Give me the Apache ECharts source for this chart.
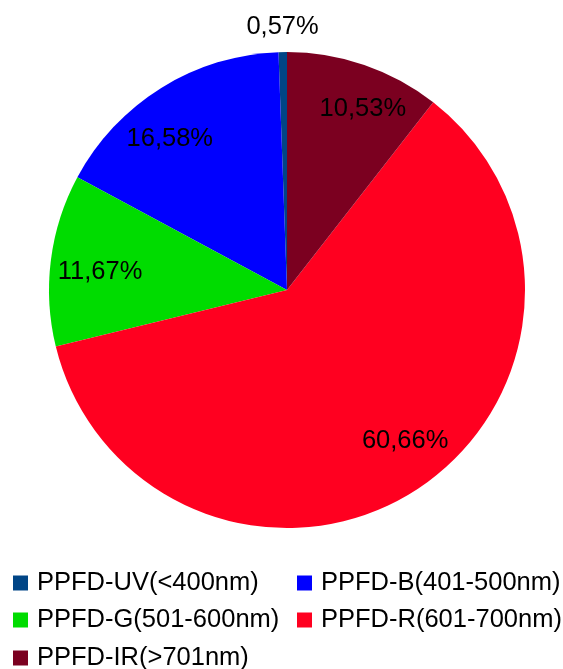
<!DOCTYPE html>
<html><head><meta charset="utf-8">
<script src="https://cdn.jsdelivr.net/npm/echarts@6/dist/echarts.min.js"></script>
<style>html,body{margin:0;padding:0;background:#fff}#c{width:563px;height:669px}</style>
</head><body><div id="c"></div>
<script>
const categories = ['PPFD-UV(<400nm)','PPFD-B(401-500nm)','PPFD-G(501-600nm)','PPFD-R(601-700nm)','PPFD-IR(>701nm)'];
const values = [0.57, 16.58, 11.67, 60.66, 10.53];
const labels = ['0,57%','16,58%','11,67%','60,66%','10,53%'];
const colors = ['#004586','#0000ff','#00dc00','#ff0020','#7b0020'];
const labelOffsets = [[-1,-70],[-15,13],[5,6],[13,-11],[13,2]];

const chart = echarts.init(document.getElementById('c'), null, {renderer:'canvas'});
const FONT = '"Liberation Sans", Arial, sans-serif';
const data = categories.map((n,i)=>({name:n, value:values[i], itemStyle:{color:colors[i]}}));
const labelData = categories.map((n,i)=>({
  name:n, value:values[i],
  label: {position:'inside', offset:labelOffsets[i]}
}));
const legendPos = [[13,570],[297,570],[13,607],[297,607],[13,645]];
const legends = categories.map((n,i)=>({
  data:[{name:n, icon:'rect'}], left:legendPos[i][0], top:legendPos[i][1],
  itemWidth:15, itemHeight:15, padding:0, selectedMode:false,
  textStyle:{fontFamily:FONT, fontSize:25.5, color:'#000', padding:[0,0,0,4]}
}));
chart.setOption({
  animation:false,
  legend: legends,
  series:[{
    type:'pie', center:[287,290], radius:[0,238], startAngle:90, clockwise:false,
    data:data, label:{show:false}, labelLine:{show:false}, silent:true
  },{
    type:'pie', center:[287,290], radius:[143,238], startAngle:90, clockwise:false,
    data:labelData, silent:true, legendHoverLink:false,
    itemStyle:{color:'rgba(0,0,0,0)'},
    label:{show:true, position:'inside', formatter:p=>labels[p.dataIndex], fontFamily:FONT, fontSize:25.5, color:'#000'},
    labelLine:{show:false}
  }]
});
</script></body></html>
